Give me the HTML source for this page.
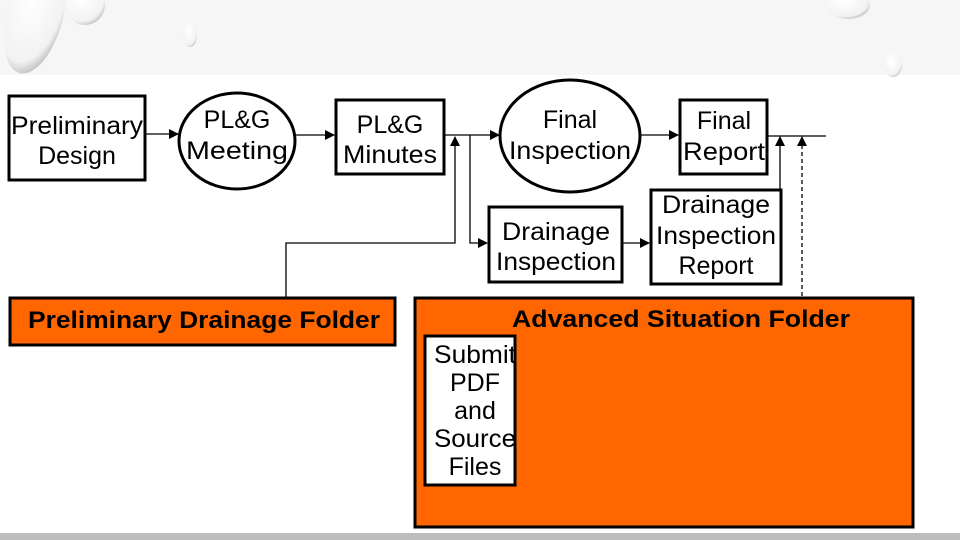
<!DOCTYPE html>
<html><head><meta charset="utf-8"><style>
html,body{margin:0;padding:0;background:#fff;}
svg{display:block;font-family:"Liberation Sans",Arial,sans-serif;}
</style></head><body>
<svg width="960" height="540" viewBox="0 0 960 540" xmlns="http://www.w3.org/2000/svg">
<defs>
<marker id="a" markerWidth="10" markerHeight="10" refX="9" refY="5" orient="auto" markerUnits="userSpaceOnUse">
<path d="M0,0 L10,5 L0,10 z" fill="#000"/></marker>
<radialGradient id="d" cx="40%" cy="35%" r="70%"><stop offset="0" stop-color="#fff"/><stop offset="0.8" stop-color="#f2f2f2"/><stop offset="1" stop-color="#bbb"/></radialGradient>
</defs>
<rect x="0" y="0" width="960" height="75" fill="#f6f6f6"/>
<ellipse cx="35" cy="15" rx="28" ry="60" fill="url(#d)" transform="rotate(15 35 15)"/>
<ellipse cx="85" cy="5" rx="20" ry="20" fill="url(#d)"/>
<ellipse cx="190" cy="35" rx="7" ry="12" fill="url(#d)"/>
<ellipse cx="848" cy="5" rx="22" ry="14" fill="url(#d)"/>
<ellipse cx="893" cy="65" rx="9" ry="12" fill="url(#d)"/>
<rect x="0" y="533" width="960" height="7" fill="#bdbdbd"/>

<g stroke="#000" fill="none">
<rect x="9" y="96" width="136" height="84" stroke-width="3" fill="#fff"/>
<ellipse cx="237" cy="141" rx="58" ry="48" stroke-width="3" fill="#fff"/>
<rect x="336" y="100" width="108" height="74" stroke-width="3" fill="#fff"/>
<ellipse cx="570" cy="136" rx="70" ry="56" stroke-width="3" fill="#fff"/>
<rect x="680" y="100" width="87" height="74" stroke-width="3" fill="#fff"/>
<rect x="489" y="207" width="133" height="75" stroke-width="3" fill="#fff"/>
<rect x="651" y="190" width="130" height="94" stroke-width="3" fill="#fff"/>
<rect x="10" y="298" width="385" height="47" stroke-width="3" fill="#ff6600"/>
<rect x="415" y="298" width="498" height="229" stroke-width="3" fill="#ff6600"/>
<rect x="425" y="336" width="90" height="149" stroke-width="3" fill="#fff"/>

<g stroke-width="1.3">
<line x1="146" y1="134" x2="178" y2="134" marker-end="url(#a)"/>
<line x1="295" y1="135" x2="334" y2="135" marker-end="url(#a)"/>
<line x1="445" y1="135" x2="499" y2="135" marker-end="url(#a)"/>
<polyline points="286,297 286,243 455,243 455,137" marker-end="url(#a)"/>
<polyline points="470,135 470,243 487,243" marker-end="url(#a)"/>
<line x1="623" y1="243" x2="649" y2="243" marker-end="url(#a)"/>
<line x1="641" y1="135" x2="678" y2="135" marker-end="url(#a)"/>
<line x1="768" y1="136" x2="826" y2="136"/>
<line x1="780" y1="189" x2="780" y2="137" marker-end="url(#a)"/>
<line x1="802" y1="296" x2="802" y2="137" stroke-dasharray="4,3" marker-end="url(#a)"/>
</g>
</g>

<g font-size="25" text-anchor="middle" fill="#000">
<text x="77" y="134" textLength="132" lengthAdjust="spacingAndGlyphs">Preliminary</text><text x="77" y="164">Design</text>
<text x="237" y="128">PL&amp;G</text><text x="237" y="159" textLength="102" lengthAdjust="spacingAndGlyphs">Meeting</text>
<text x="390" y="133">PL&amp;G</text><text x="390" y="163" textLength="94" lengthAdjust="spacingAndGlyphs">Minutes</text>
<text x="570" y="128">Final</text><text x="570" y="159" textLength="122" lengthAdjust="spacingAndGlyphs">Inspection</text>
<text x="724" y="129">Final</text><text x="724" y="160" textLength="82" lengthAdjust="spacingAndGlyphs">Report</text>
<text x="556" y="240" textLength="108" lengthAdjust="spacingAndGlyphs">Drainage</text><text x="556" y="270" textLength="120" lengthAdjust="spacingAndGlyphs">Inspection</text>
<text x="716" y="213" textLength="108" lengthAdjust="spacingAndGlyphs">Drainage</text><text x="716" y="244" textLength="120" lengthAdjust="spacingAndGlyphs">Inspection</text><text x="716" y="274">Report</text>
<text x="475" y="363" textLength="82" lengthAdjust="spacingAndGlyphs">Submit</text><text x="475" y="391">PDF</text><text x="475" y="419">and</text><text x="475" y="447" textLength="82" lengthAdjust="spacingAndGlyphs">Source</text><text x="475" y="475">Files</text>
</g>
<g font-size="24" font-weight="bold" text-anchor="middle" fill="#000">
<text x="204" y="328" textLength="352" lengthAdjust="spacingAndGlyphs">Preliminary Drainage Folder</text>
<text x="681" y="327" textLength="338" lengthAdjust="spacingAndGlyphs">Advanced Situation Folder</text>
</g>
</svg>
</body></html>
